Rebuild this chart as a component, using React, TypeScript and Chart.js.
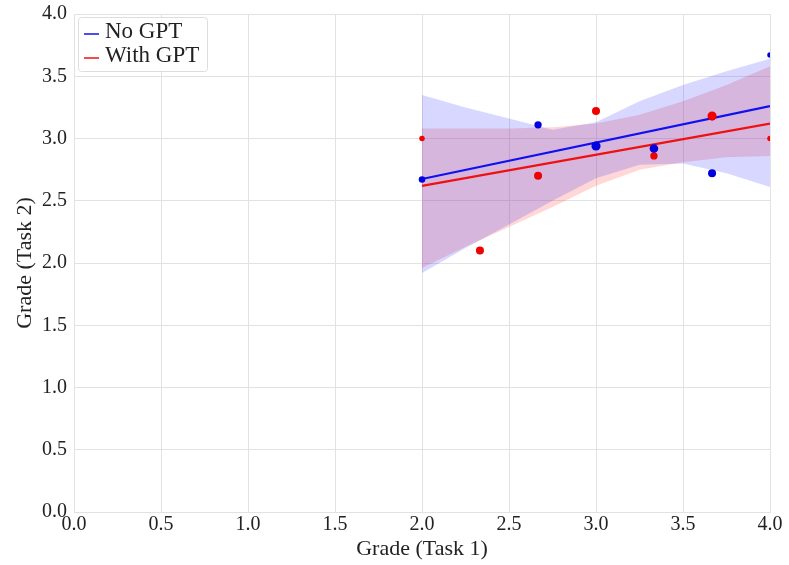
import React, { useEffect, useRef } from "react";
import { Chart, registerables } from "chart.js";

Chart.register(...registerables);

// Scatter data: Grade (Task 1) vs Grade (Task 2)
const blueX = [2.0, 2.667, 3.0, 3.333, 3.667, 4.0];
const blueY = [2.67, 3.11, 2.94, 2.92, 2.72, 3.67];
const blueCounts = [2, 3, 6, 5, 4, 1];
const redX = [2.0, 2.333, 2.667, 3.0, 3.333, 3.667, 4.0];
const redY = [3.0, 2.1, 2.7, 3.22, 2.86, 3.18, 3.0];
const redCounts = [1, 4, 4, 4, 3, 6, 1];

// Regression lines (endpoints)
const fitX = [2.0, 4.0];
const blueFit = [2.675, 3.26];
const redFit = [2.62, 3.12];

// Confidence bands
const bandX = [2.0, 2.25, 2.5, 2.75, 3.0, 3.25, 3.5, 3.75, 4.0];
const blueUpper = [3.35, 3.25, 3.16, 3.07, 3.13, 3.3, 3.43, 3.54, 3.64];
const blueLower = [1.92, 2.12, 2.31, 2.5, 2.68, 2.79, 2.8, 2.72, 2.61];
const redUpper = [3.08, 3.08, 3.08, 3.09, 3.12, 3.19, 3.3, 3.43, 3.58];
const redLower = [1.96, 2.13, 2.29, 2.45, 2.62, 2.75, 2.81, 2.85, 2.86];

const tickValues = [0, 0.5, 1.0, 1.5, 2.0, 2.5, 3.0, 3.5, 4.0];
const seriesLabels = ["No GPT", "With GPT"];
const xTitle = "Grade (Task 1)";
const yTitle = "Grade (Task 2)";

const BLUE = "#1010f0";
const RED = "#f01010";
const FONT = "'Liberation Serif', 'DejaVu Serif', serif";

const pts = (xs: number[], ys: number[]) => xs.map((x, i) => ({ x, y: ys[i] }));
const radius = (c: number) => 1.5 + Math.sqrt(c) * 1.25;

const legendPlugin = {
  id: "insideLegend",
  afterDraw(chart: any) {
    const ctx = chart.ctx;
    const { left, top } = chart.chartArea;
    const x0 = left + 4;
    const y0 = top + 3;
    const w = 129;
    const h = 54;
    ctx.save();
    ctx.fillStyle = "rgba(255,255,255,0.85)";
    ctx.strokeStyle = "#dddddd";
    ctx.lineWidth = 1;
    ctx.beginPath();
    (ctx as any).roundRect ? (ctx as any).roundRect(x0 + 0.5, y0 + 0.5, w, h, 3) : ctx.rect(x0 + 0.5, y0 + 0.5, w, h);
    ctx.fill();
    ctx.stroke();
    const colors = [BLUE, RED];
    ctx.font = `23px ${FONT}`;
    ctx.textBaseline = "middle";
    seriesLabels.forEach((lab, i) => {
      const yy = y0 + 15 + i * 24;
      ctx.strokeStyle = colors[i];
      ctx.lineWidth = 1.5;
      ctx.beginPath();
      ctx.moveTo(x0 + 6, yy + 2);
      ctx.lineTo(x0 + 21, yy + 2);
      ctx.stroke();
      ctx.fillStyle = "#222";
      ctx.fillText(lab, x0 + 27, yy);
    });
    ctx.restore();
  },
};

export default function App() {
  const ref = useRef<HTMLCanvasElement>(null);
  useEffect(() => {
    if (!ref.current) return;
    const chart = new Chart(ref.current, {
      type: "scatter",
      data: {
        datasets: [
          {
            label: "No GPT pts",
            data: pts(blueX, blueY),
            backgroundColor: "#0000e0",
            borderWidth: 0,
            pointRadius: blueCounts.map(radius),
            order: 0,
          } as any,
          {
            label: "With GPT pts",
            data: pts(redX, redY),
            backgroundColor: "#f00000",
            borderWidth: 0,
            pointRadius: redCounts.map(radius),
            order: 0,
          },
          {
            label: "No GPT",
            type: "line",
            data: pts(fitX, blueFit),
            borderColor: BLUE,
            borderWidth: 2.2,
            pointRadius: 0,
            fill: false,
            order: 1,
          },
          {
            label: "With GPT",
            type: "line",
            data: pts(fitX, redFit),
            borderColor: RED,
            borderWidth: 2.2,
            pointRadius: 0,
            fill: false,
            order: 1,
          },
          {
            label: "blue upper",
            type: "line",
            data: pts(bandX, blueUpper),
            borderWidth: 0,
            pointRadius: 0,
            backgroundColor: "rgba(40,40,255,0.19)",
            fill: "+1",
            order: 2,
          },
          {
            label: "blue lower",
            type: "line",
            data: pts(bandX, blueLower),
            borderWidth: 0,
            pointRadius: 0,
            fill: false,
            order: 2,
          },
          {
            label: "red upper",
            type: "line",
            data: pts(bandX, redUpper),
            borderWidth: 0,
            pointRadius: 0,
            backgroundColor: "rgba(255,40,40,0.19)",
            fill: "+1",
            order: 2,
          },
          {
            label: "red lower",
            type: "line",
            data: pts(bandX, redLower),
            borderWidth: 0,
            pointRadius: 0,
            fill: false,
            order: 2,
          },
        ],
      },
      options: {
        animation: false,
        responsive: false,
        layout: { padding: { top: 14, right: 19, left: 0, bottom: 0 } },
        plugins: { legend: { display: false }, tooltip: { enabled: false } },
        scales: {
          x: {
            type: "linear",
            min: 0,
            max: 4,
            afterBuildTicks: (s: any) => {
              s.ticks = tickValues.map((v) => ({ value: v }));
            },
            afterFit: (s: any) => {
              s.height = 53;
              s.paddingLeft = 0;
              s.paddingRight = 0;
            },
            ticks: {
              font: { family: FONT, size: 20 },
              color: "#222",
              padding: 1,
              callback: (v: any) => Number(v).toFixed(1),
            },
            grid: { color: "#e2e2e2", drawTicks: false },
            border: { color: "#e2e2e2" },
            title: {
              display: true,
              text: xTitle,
              font: { family: FONT, size: 22 },
              color: "#222",
              padding: { top: 0, bottom: 3 },
            },
          },
          y: {
            type: "linear",
            min: 0,
            max: 4,
            afterBuildTicks: (s: any) => {
              s.ticks = tickValues.map((v) => ({ value: v }));
            },
            afterFit: (s: any) => {
              s.width = 74;
              s.paddingTop = 0;
              s.paddingBottom = 0;
            },
            ticks: {
              font: { family: FONT, size: 20 },
              color: "#222",
              padding: 7,
              callback: (v: any) => Number(v).toFixed(1),
            },
            grid: { color: "#e2e2e2", drawTicks: false },
            border: { color: "#e2e2e2" },
            title: {
              display: true,
              text: yTitle,
              font: { family: FONT, size: 22 },
              color: "#222",
              padding: { top: 12, bottom: 0 },
            },
          },
        },
      },
      plugins: [legendPlugin],
    });
    return () => chart.destroy();
  }, []);
  return (
    <div style={{ position: "fixed", left: 0, top: 0, width: 789, height: 565, background: "#fff" }}>
      <canvas ref={ref} width={789} height={565} style={{ display: "block" }} />
    </div>
  );
}
